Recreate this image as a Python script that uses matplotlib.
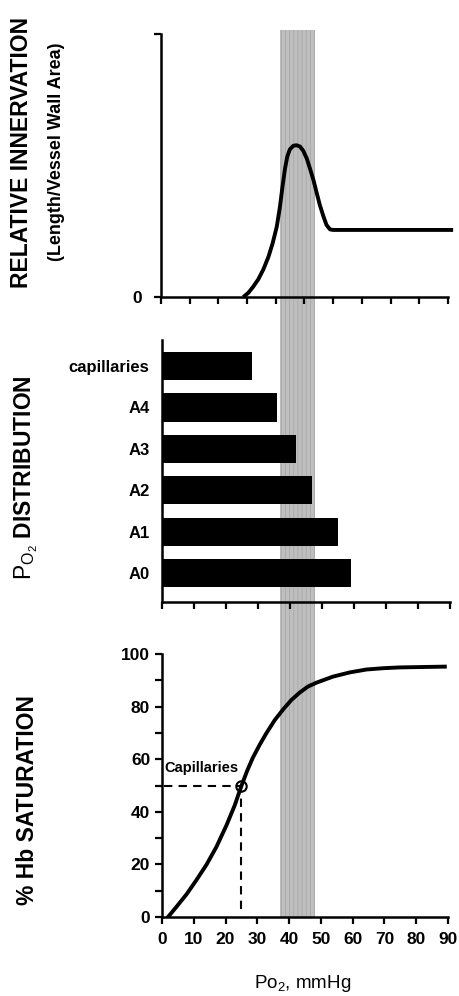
import matplotlib
matplotlib.use("Agg")
import matplotlib.pyplot as plt
from matplotlib.patches import Rectangle
from matplotlib.transforms import blended_transform_factory

plt.rcParams['font.family'] = ['Liberation Sans', 'DejaVu Sans']
plt.rcParams['mathtext.fontset'] = 'custom'
plt.rcParams['mathtext.rm'] = 'Liberation Sans'
plt.rcParams['mathtext.it'] = 'Liberation Sans:italic'
plt.rcParams['mathtext.bf'] = 'Liberation Sans:bold'
plt.rcParams['hatch.linewidth'] = 0.6

# top panel: relative innervation vs PO2
innerv_po2 = [25.8, 27.4, 28.9, 30.5, 32.1, 33.7, 35.0, 36.3, 37.3, 38.1, 38.9, 39.6,
              40.4, 41.5, 42.5, 43.6, 44.6, 45.7, 46.7, 47.8, 48.8, 49.8, 50.9,
              51.9, 53.0, 54.0, 91.6]
innerv_val = [0.0, 0.016, 0.039, 0.067, 0.105, 0.153, 0.204, 0.267, 0.343, 0.420,
              0.489, 0.534, 0.561, 0.575, 0.577, 0.572, 0.556, 0.527, 0.489, 0.445,
              0.397, 0.350, 0.308, 0.274, 0.257, 0.255, 0.255]

# middle panel: PO2 by vessel order
vessels = ['A0', 'A1', 'A2', 'A3', 'A4', 'capillaries']
vessel_po2 = [59, 55, 47, 42, 36, 28]

# bottom panel: Hb dissociation curve
hb_po2 = [1.9, 4.5, 7.7, 10.8, 14.0, 17.1, 20.3, 22.9, 25.0, 26.8, 28.6, 30.7, 32.8,
          35.5, 38.1, 40.7, 43.3, 45.9, 48.6, 53.8, 59.1, 64.3, 69.6, 74.8, 89.0]
hb_sat = [0, 3.8, 8.6, 14.0, 19.9, 26.6, 34.9, 42.5, 49.9, 55.6, 60.6, 65.4, 69.8,
          74.9, 78.9, 82.5, 85.3, 87.6, 89.1, 91.4, 93.0, 94.1, 94.6, 94.9, 95.2]
cap_po2 = 25
cap_sat = 50

band_lo, band_hi = 37, 48

W, H = 460, 996
fig = plt.figure(figsize=(W / 100, H / 100), dpi=100)

ax1 = fig.add_axes([161 / W, 1 - 297 / H, (448 - 161) / W, (297 - 34) / H])
ax2 = fig.add_axes([162 / W, 1 - 602 / H, (450 - 162) / W, (602 - 340) / H])
ax3 = fig.add_axes([162 / W, 1 - 917 / H, (448 - 162) / W, (917 - 654) / H])

for ax in (ax1, ax2, ax3):
    ax.set_facecolor('none')
    ax.spines['top'].set_visible(False)
    ax.spines['right'].set_visible(False)
    ax.spines['left'].set_linewidth(1.8)
    ax.spines['bottom'].set_linewidth(1.8)
    ax.tick_params(direction='out', length=5, width=1.6, labelsize=12.5)
    ax.set_xlim(0, 90)

# shaded band across all three panels
trans = blended_transform_factory(ax3.transData, fig.transFigure)
band = Rectangle((band_lo, 1 - 917 / H), band_hi - band_lo, (917 - 30) / H,
                 transform=trans, facecolor='#bebebe', edgecolor='#a8a8a8',
                 hatch='||||', lw=0, zorder=-5)
fig.add_artist(band)

# top
ax1.plot(innerv_po2, innerv_val, color='black', lw=2.8, clip_on=False,
         solid_capstyle='butt', solid_joinstyle='round')
ax1.set_ylim(0, 1)
ax1.set_xticks([i * 9 for i in range(11)])
ax1.set_xticklabels([])
ax1.set_yticks([0, 1])
ax1.set_yticklabels(['0', ''], fontweight='bold')
ax1.tick_params(axis='y', pad=9)

# middle
ax2.barh(range(len(vessels)), vessel_po2, height=0.68, color='black')
ax2.set_ylim(-0.70, 5.63)
ax2.set_yticks(range(len(vessels)))
ax2.set_yticklabels(vessels, fontsize=12, fontweight='bold')
ax2.tick_params(axis='y', length=0, pad=9)
ax2.set_xticks(range(0, 91, 10))
ax2.set_xticklabels([])

# bottom
ax3.plot(hb_po2, hb_sat, color='black', lw=2.8, solid_joinstyle='round')
ax3.plot([0.5, cap_po2], [cap_sat, cap_sat], color='black', lw=1.5,
         linestyle=(0, (4, 3)))
ax3.plot([cap_po2, cap_po2], [3, cap_sat], color='black', lw=1.5,
         linestyle=(0, (4, 3)))
ax3.plot([cap_po2], [cap_sat], marker='o', ms=7.5, mfc='none', mec='black',
         mew=1.5)
ax3.text(0.9, 56.6, 'Capillaries', fontsize=10.5, fontweight='bold',
         ha='left', va='center')
ax3.set_ylim(0, 100)
ax3.set_xticks(range(0, 91, 10))
ax3.set_yticks(range(0, 101, 10))
ax3.set_yticklabels([str(v) if v % 20 == 0 else '' for v in range(0, 101, 10)],
                    fontweight='bold')
ax3.set_xticklabels([str(v) for v in range(0, 91, 10)], fontweight='bold')
ax3.tick_params(axis='x', pad=6)

# axis titles
fig.text(22 / W, 1 - 153 / H, 'RELATIVE INNERVATION', rotation=90,
         fontsize=16.5, fontweight='bold', ha='center', va='center')
fig.text(57 / W, 1 - 152 / H, '(Length/Vessel Wall Area)', rotation=90,
         fontsize=13, fontweight='bold', ha='center', va='center')
fig.text(26 / W, 1 - 478 / H, r'$\mathrm{P_{O_2}}$ DISTRIBUTION', rotation=90,
         fontsize=16.5, fontweight='bold', ha='center', va='center')
fig.text(28 / W, 1 - 800 / H, '% Hb SATURATION', rotation=90,
         fontsize=16.5, fontweight='bold', ha='center', va='center')
fig.text(303 / W, 1 - 983 / H, r'Po$_2$, mmHg', fontsize=13.5,
         ha='center', va='center')

fig.savefig('out.png', dpi=100)
